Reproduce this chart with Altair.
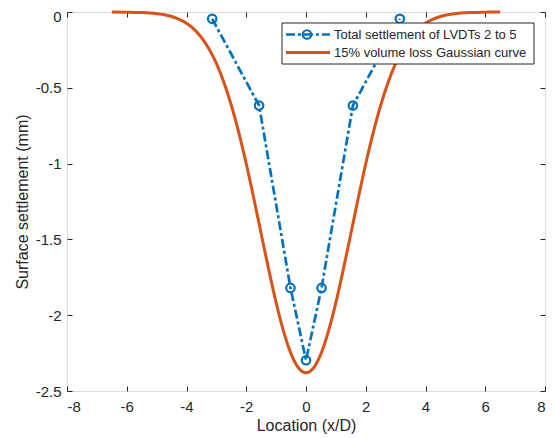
import altair as alt
import pandas as pd

# Measured settlement (LVDTs 2 to 5)
settle_x = [-3.14, -1.57, -0.52, 0.0, 0.52, 1.57, 3.14]
settle_y = [-0.045, -0.617, -1.82, -2.297, -1.82, -0.617, -0.045]

# 15% volume loss Gaussian curve
gauss_x = [-6.5, -6.0, -5.5, -5.0, -4.5, -4.0, -3.75, -3.5, -3.25, -3.0, -2.75, -2.5,
           -2.25, -2.0, -1.75, -1.5, -1.25, -1.0, -0.75, -0.5, -0.25, 0.0,
           0.25, 0.5, 0.75, 1.0, 1.25, 1.5, 1.75, 2.0, 2.25, 2.5, 2.75, 3.0,
           3.25, 3.5, 3.75, 4.0, 4.5, 5.0, 5.5, 6.0, 6.5]
gauss_y = [-0.0003, -0.001, -0.0034, -0.011, -0.030, -0.075, -0.113, -0.168, -0.242, -0.339, -0.463, -0.615,
           -0.796, -1.001, -1.227, -1.463, -1.697, -1.917, -2.107, -2.255, -2.348, -2.38,
           -2.348, -2.255, -2.107, -1.917, -1.697, -1.463, -1.227, -1.001, -0.796, -0.615, -0.463, -0.339,
           -0.242, -0.168, -0.113, -0.075, -0.030, -0.011, -0.0034, -0.001, -0.0003]

x_ticks = [-8, -6, -4, -2, 0, 2, 4, 6, 8]
y_ticks = [0, -0.5, -1, -1.5, -2, -2.5]

series_names = ["Total settlement of LVDTs 2 to 5", "15% volume loss Gaussian curve"]
x_title = "Location (x/D)"
y_title = "Surface settlement (mm)"

BLUE = "#0072BD"
ORANGE = "#D95319"
FONT = "Liberation Sans"
TXT = "#262626"

W, H = 478, 379

settle_df = pd.DataFrame({"x": settle_x, "y": settle_y})
gauss_df = pd.DataFrame({"x": gauss_x, "y": gauss_y})

xscale = alt.Scale(domain=[-8, 8], nice=False, zero=False)
yscale = alt.Scale(domain=[-2.5, 0], nice=False, zero=False)

common_axis = dict(grid=False, domain=False, tickSize=5, offset=-5, tickColor=TXT,
                   tickWidth=1, labelFont=FONT, labelFontSize=15, labelColor=TXT,
                   titleFont=FONT, titleFontSize=16, titleColor=TXT, titleFontWeight="normal",
                   labelExpr="toString(datum.value)")

x_axis_bottom = alt.Axis(orient="bottom", values=x_ticks, labelPadding=8,
                         title=x_title, titleY=44, titleBaseline="alphabetic", **common_axis)
y_axis_left = alt.Axis(orient="left", values=y_ticks, labelPadding=6,
                       labelOffset={"condition": {"test": "datum.value == 0", "value": 4}, "value": 0},
                       title=y_title, titleX=-50, titleBaseline="middle", titleAngle=-90,
                       **common_axis)

top_kw = {k: v for k, v in common_axis.items() if k != "labelExpr"}
x_axis_top = alt.Axis(orient="top", values=x_ticks, labels=False, title=None, **top_kw)
y_axis_right = alt.Axis(orient="right", values=y_ticks, labels=False, title=None, **top_kw)

gauss = alt.Chart(gauss_df).mark_line(color=ORANGE, strokeWidth=3, interpolate="monotone").encode(
    x=alt.X("x:Q", scale=xscale, axis=x_axis_bottom),
    y=alt.Y("y:Q", scale=yscale, axis=y_axis_left),
)

DASH = [9, 3, 3, 3]
settle_line = alt.Chart(settle_df).mark_line(color=BLUE, strokeWidth=2.7, strokeDash=DASH).encode(
    x=alt.X("x:Q", scale=xscale, axis=x_axis_top),
    y=alt.Y("y:Q", scale=yscale, axis=y_axis_right),
)
settle_pts = alt.Chart(settle_df).mark_point(shape="circle", size=72, filled=False,
                                             color=BLUE, strokeWidth=2.2, opacity=1).encode(
    x=alt.X("x:Q", scale=xscale, axis=None),
    y=alt.Y("y:Q", scale=yscale, axis=None),
)

# legend
leg_df = pd.DataFrame({"a": [0]})
leg_box = alt.Chart(leg_df).mark_rect(fill="white", stroke=TXT, strokeWidth=1).encode(
    x=alt.value(215), x2=alt.value(467), y=alt.value(11), y2=alt.value(52))
leg_l1 = alt.Chart(leg_df).mark_rule(color=BLUE, strokeWidth=2.7, strokeDash=DASH).encode(
    x=alt.value(219), x2=alt.value(263), y=alt.value(22.5))
leg_p1 = alt.Chart(leg_df).mark_point(shape="circle", size=72, filled=False, color=BLUE,
                                      strokeWidth=2.2, opacity=1).encode(
    x=alt.value(240), y=alt.value(22.5))
leg_l2 = alt.Chart(leg_df).mark_rule(color=ORANGE, strokeWidth=3).encode(
    x=alt.value(219), x2=alt.value(263), y=alt.value(40.5))
leg_t1 = alt.Chart(leg_df).mark_text(text=series_names[0], align="left", baseline="middle",
                                     font=FONT, fontSize=13, color=TXT).encode(
    x=alt.value(267), y=alt.value(23))
leg_t2 = alt.Chart(leg_df).mark_text(text=series_names[1], align="left", baseline="middle",
                                     font=FONT, fontSize=13, color=TXT).encode(
    x=alt.value(267), y=alt.value(41))

chart = alt.layer(
    settle_line, settle_pts, gauss, leg_box, leg_l1, leg_p1, leg_l2, leg_t1, leg_t2
).resolve_axis(x="independent", y="independent").properties(
    width=W, height=H,
    autosize=alt.AutoSizeParams(type="none"),
    padding={"left": 59, "top": 4, "right": 1, "bottom": 46},
).configure_view(stroke="#6e6e6e", strokeWidth=1).configure(background="white")

chart.save("out.html", embed_options={"renderer": "svg", "actions": False})
